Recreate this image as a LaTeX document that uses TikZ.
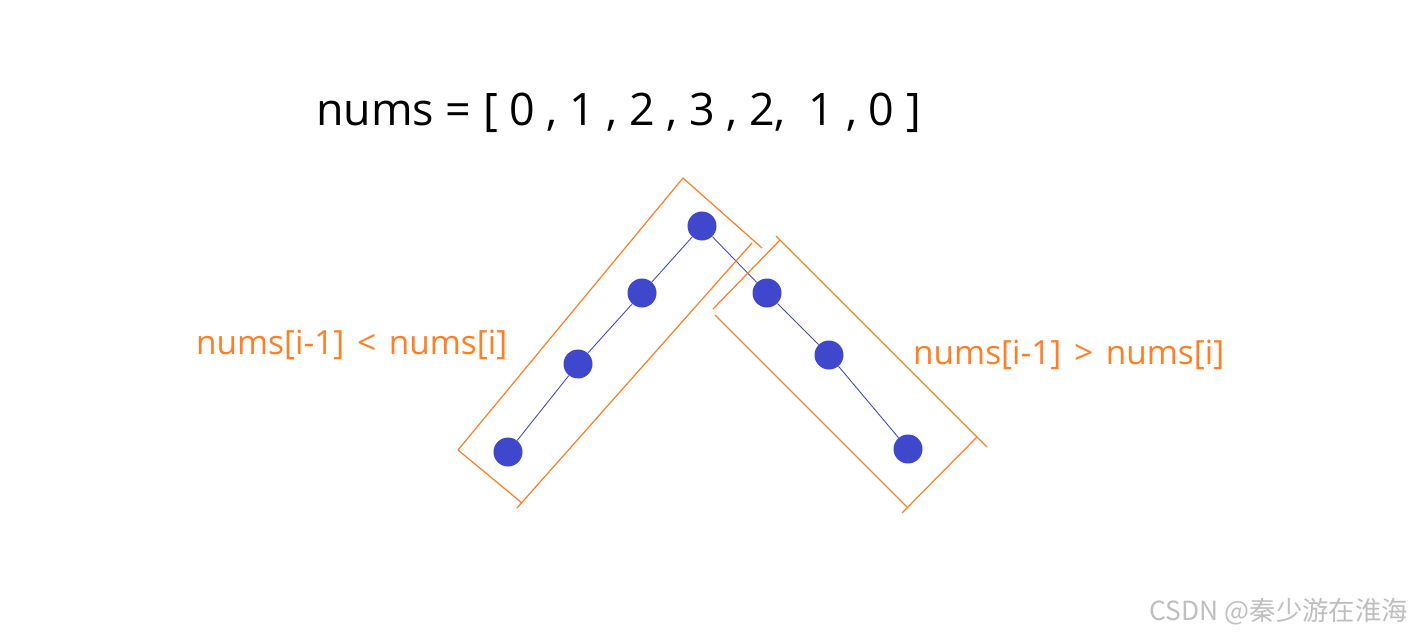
\documentclass[tikz,border=0pt]{standalone}
\usepackage{fontspec}
\setmainfont{Open Sans}
\newfontfamily\cjk{Noto Sans CJK SC}
\usepackage{xcolor}
\usetikzlibrary{positioning}

\definecolor{paintorange}{RGB}{255,127,39}
\definecolor{paintblue}{RGB}{63,72,204}

\tikzset{
  dot/.style={circle, fill=paintblue, inner sep=0pt, minimum size=29*0.02cm},
  link/.style={paintblue, line width=0.5pt},
  frame/.style={paintorange, line width=0.7pt},
  cond/.style={text=paintorange, font=\fontsize{19}{21}\selectfont}
}

\begin{document}
\begin{tikzpicture}[x=0.02cm, y=-0.02cm]
  \useasboundingbox (0,0) rectangle (1417,639);

  % Array
  \node[font=\fontsize{25.5}{28}\selectfont, anchor=west] (arr) at (310,113)
    {nums = [ 0 , 1 , 2 , 3 , 2,\ \ 1 , 0 ]};

  % Points
  \node[dot] (p1) at (508,452) {};
  \node[dot] (p2) at (578,364) {};
  \node[dot] (p3) at (642,293) {};
  \node[dot] (p4) at (702,226) {};
  \node[dot] (p5) at (767,293) {};
  \node[dot] (p6) at (829,355) {};
  \node[dot] (p7) at (908,449) {};
  \draw[link] (p1) -- (p2) -- (p3) -- (p4) -- (p5) -- (p6) -- (p7);

  % Increasing part
  \draw[frame] (458,450) -- (683,178) -- (762,248);
  \draw[frame] (752,243) -- (517,508);
  \draw[frame] (458,450) -- (522,503);

  % Decreasing part
  \draw[frame] (776,236) -- (987,447);
  \draw[frame] (977,437) -- (902,513);
  \draw[frame] (715,315) -- (907,507);
  \draw[frame] (780,240) -- (713,309);

  % Labels
  \node[cond, anchor=west] (up) at (190,345)
    {nums[i-1]\hspace{0.38em}<\hspace{0.38em}nums[i]};
  \node[cond, anchor=west] (down) at (907,355)
    {nums[i-1]\hspace{0.38em}>\hspace{0.38em}nums[i]};

  % Watermark
  \node[anchor=east, text=black!25, font=\cjk\fontsize{15}{17}\selectfont] (wm)
    at (1414,612) {CSDN @秦少游在淮海};
\end{tikzpicture}
\end{document}
